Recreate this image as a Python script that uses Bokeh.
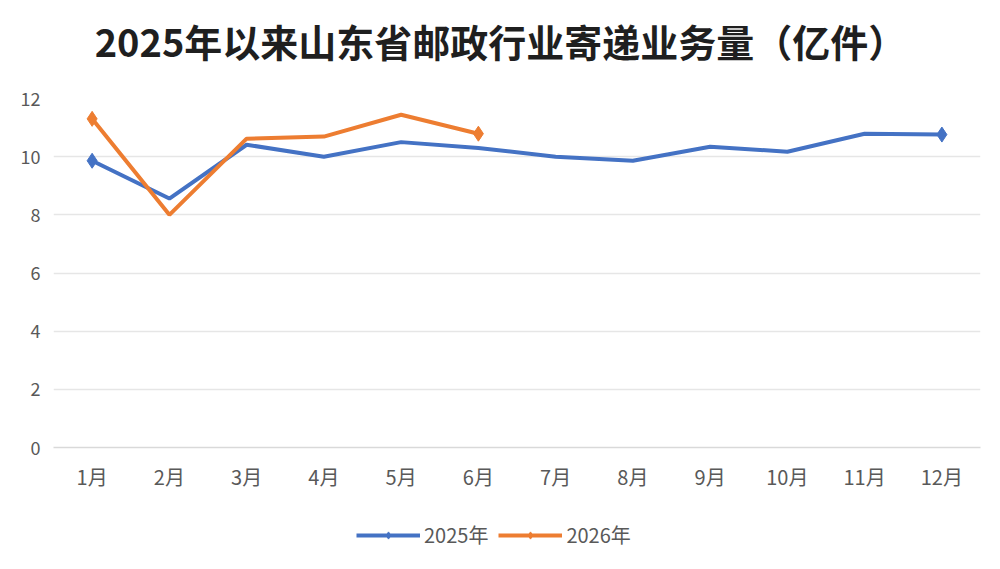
from bokeh.embed import file_html
from bokeh.layouts import column
from bokeh.models import ColumnDataSource, Label, Legend, LegendItem
from bokeh.plotting import figure
from bokeh.resources import INLINE

FONT = "Noto Sans CJK SC"

title_text = "2025年以来山东省邮政行业寄递业务量（亿件）"
months = ["1月", "2月", "3月", "4月", "5月", "6月", "7月", "8月", "9月", "10月", "11月", "12月"]
vol_2025 = [9.86, 8.56, 10.41, 10.0, 10.5, 10.3, 10.0, 9.86, 10.34, 10.17, 10.79, 10.76]
vol_2026 = [11.3, 8.0, 10.62, 10.69, 11.44, 10.79]
y_ticks = [0, 2, 4, 6, 8, 10, 12]
series_names = ["2025年", "2026年"]

BLUE = "#4472C4"
ORANGE = "#ED7D31"


def _strip(height):
    # blank figure used only as a canvas for the title or the legend
    fig = figure(width=992, height=height, x_range=(0, 1), y_range=(0, 1),
                 output_backend="svg", toolbar_location=None, min_border=0)
    fig.axis.visible = False
    fig.grid.grid_line_color = None
    fig.outline_line_color = None
    return fig


head = _strip(84)
head.add_layout(Label(x=447, y=44, x_units="screen", y_units="screen", text=title_text,
                      text_align="center", text_baseline="middle", text_font=FONT,
                      text_font_size="38px", text_font_style="bold", text_color="#1f1f1f"))

p = figure(x_range=months, y_range=(0, 12), width=992, height=416,
           output_backend="svg", toolbar_location=None,
           min_border_left=53, min_border_right=12, min_border_top=14, min_border_bottom=53)
p.outline_line_color = None

p.xgrid.grid_line_color = None
p.ygrid.grid_line_color = "#e6e6e6"
p.ygrid.grid_line_width = 1.5
p.yaxis.ticker = y_ticks
for ax in (p.xaxis, p.yaxis):
    ax.major_tick_line_color = None
    ax.minor_tick_line_color = None
    ax.major_label_text_font = FONT
    ax.major_label_text_color = "#595959"
p.yaxis.major_label_text_font_size = "18px"
p.xaxis.major_label_text_font_size = "20px"
p.yaxis.axis_line_color = None
p.yaxis.major_label_standoff = 7
p.xaxis.axis_line_color = "#d9d9d9"
p.xaxis.axis_line_width = 1.5
p.xaxis.major_label_standoff = 8

src25 = ColumnDataSource(data=dict(x=months, y=vol_2025))
src26 = ColumnDataSource(data=dict(x=months[:len(vol_2026)], y=vol_2026))
ends25 = ColumnDataSource(data=dict(x=[months[0], months[-1]], y=[vol_2025[0], vol_2025[-1]]))
ends26 = ColumnDataSource(data=dict(x=[months[0], months[len(vol_2026) - 1]], y=[vol_2026[0], vol_2026[-1]]))

p.line("x", "y", source=src25, line_color=BLUE, line_width=4)
p.scatter("x", "y", source=ends25, marker="diamond", size=15, color=BLUE)
p.line("x", "y", source=src26, line_color=ORANGE, line_width=4)
p.scatter("x", "y", source=ends26, marker="diamond", size=15, color=ORANGE)

# legend lives in its own strip below, so it is not clipped by the frame;
# its renderers sit outside the strip's range and only feed the legend swatches
leg = _strip(61)
items = []
for name, color in zip(series_names, [BLUE, ORANGE]):
    ln = leg.line([5, 6], [5, 6], line_color=color, line_width=4)
    mk = leg.scatter([5], [5], marker="diamond", size=14, color=color)
    items.append(LegendItem(label=name, renderers=[ln, mk]))
legend = Legend(items=items, orientation="horizontal", location=(303, 12),
                glyph_width=64, glyph_height=18, spacing=10, label_standoff=4,
                label_text_font=FONT, label_text_font_size="20px", label_text_color="#595959",
                border_line_color=None, background_fill_alpha=0, margin=0, padding=2)
leg.add_layout(legend)

open("out.html", "w").write(file_html(column(head, p, leg), INLINE))
